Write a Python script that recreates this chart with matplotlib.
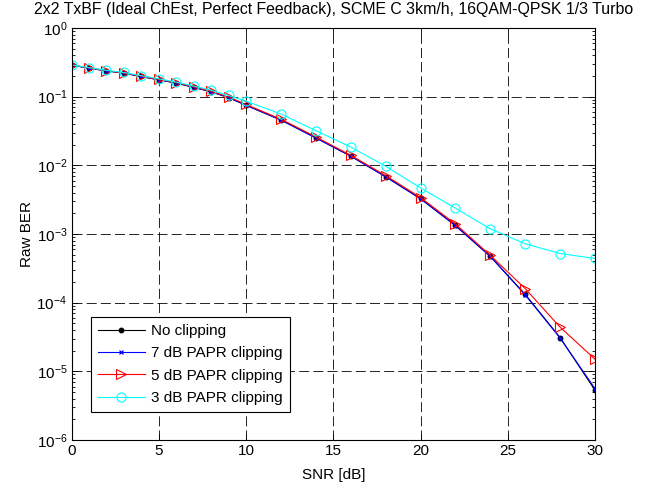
import numpy as np
import matplotlib
matplotlib.use("Agg")
import matplotlib.pyplot as plt
from matplotlib.ticker import LogLocator, NullFormatter

plt.rcParams["font.family"] = ["Liberation Sans", "DejaVu Sans"]

# SNR points (dB)
snr = [0, 1, 2, 3, 4, 5, 6, 7, 8, 9, 10, 12, 14, 16, 18, 20, 22, 24, 26, 28, 30]

# raw BER
ber_no_clip = [0.288, 0.26, 0.238, 0.22, 0.197, 0.176, 0.158, 0.137, 0.118, 0.097, 0.075,
               0.046, 0.0252, 0.0137, 0.00685, 0.00329, 0.00134, 4.74e-4, 1.32e-4, 3.1e-5, 5.3e-6]
ber_7db = [0.288, 0.26, 0.238, 0.22, 0.197, 0.176, 0.158, 0.137, 0.118, 0.097, 0.075,
           0.0455, 0.025, 0.0136, 0.0068, 0.00325, 0.00132, 4.7e-4, 1.3e-4, 3.05e-5, 5.6e-6]
ber_5db = [0.29, 0.262, 0.24, 0.221, 0.199, 0.178, 0.16, 0.139, 0.12, 0.099, 0.077,
           0.047, 0.026, 0.014, 0.0071, 0.0034, 0.0014, 4.9e-4, 1.6e-4, 4.4e-5, 1.5e-5]
ber_3db = [0.29, 0.265, 0.242, 0.225, 0.202, 0.182, 0.163, 0.143, 0.124, 0.104, 0.086,
           0.056, 0.032, 0.0185, 0.0097, 0.0047, 0.00238, 0.00119, 7.2e-4, 5.2e-4, 4.4e-4]

labels = ["No clipping", "7 dB PAPR clipping", "5 dB PAPR clipping", "3 dB PAPR clipping"]

fig = plt.figure(figsize=(6.58, 4.87), dpi=100)
# axes box: x 71.5..595 px, y 28..440 px
ax = fig.add_axes([71.5 / 658, 1 - 440 / 487, 523.5 / 658, 412 / 487])

ax.semilogy(snr, ber_no_clip, color="k", marker="o", markersize=3.2, linewidth=0.8,
            label=labels[0])
ax.semilogy(snr, ber_7db, color="#0000ff", marker="x", markersize=3.5, markeredgewidth=0.9,
            linewidth=0.8, label=labels[1])
ax.semilogy(snr, ber_5db, color="#ff0000", marker=">", markersize=7, markerfacecolor="none",
            markeredgewidth=0.8, linewidth=0.8, label=labels[2])
ax.semilogy(snr, ber_3db, color="#00ffff", marker="o", markersize=6.5, markerfacecolor="none",
            markeredgewidth=0.8, linewidth=0.8, label=labels[3])

ax.set_xlim(0, 30)
ax.set_ylim(1e-6, 1e0)
ax.set_xticks([0, 5, 10, 15, 20, 25, 30])
ax.yaxis.set_major_locator(LogLocator(base=10, numticks=10))
ax.yaxis.set_minor_locator(LogLocator(base=10, subs=np.arange(2, 10), numticks=20))
ax.yaxis.set_minor_formatter(NullFormatter())

ax.grid(True, which="major", color="k", linestyle=(0, (12, 5)), linewidth=0.6)
ax.tick_params(which="both", direction="in", top=True, right=True, labelsize=11, width=0.6)
ax.tick_params(which="major", length=4, pad=3)
ax.tick_params(which="minor", length=2)
for spine in ax.spines.values():
    spine.set_linewidth(0.8)

ax.set_xlabel("SNR [dB]", fontsize=11, labelpad=7)
ax.set_ylabel("Raw BER", fontsize=11, labelpad=2)
ax.set_title("2x2 TxBF (Ideal ChEst, Perfect Feedback), SCME C 3km/h, 16QAM-QPSK 1/3 Turbo",
             fontsize=11.4, pad=10)

leg = ax.legend(loc="lower left", bbox_to_anchor=(0.037, 0.068), fontsize=11, fancybox=False,
                framealpha=1, edgecolor="k", borderpad=0.45, labelspacing=0.55,
                handlelength=3.1, handletextpad=0.4, borderaxespad=0)
leg.get_frame().set_linewidth(0.8)

fig.savefig("out.png", dpi=100)
